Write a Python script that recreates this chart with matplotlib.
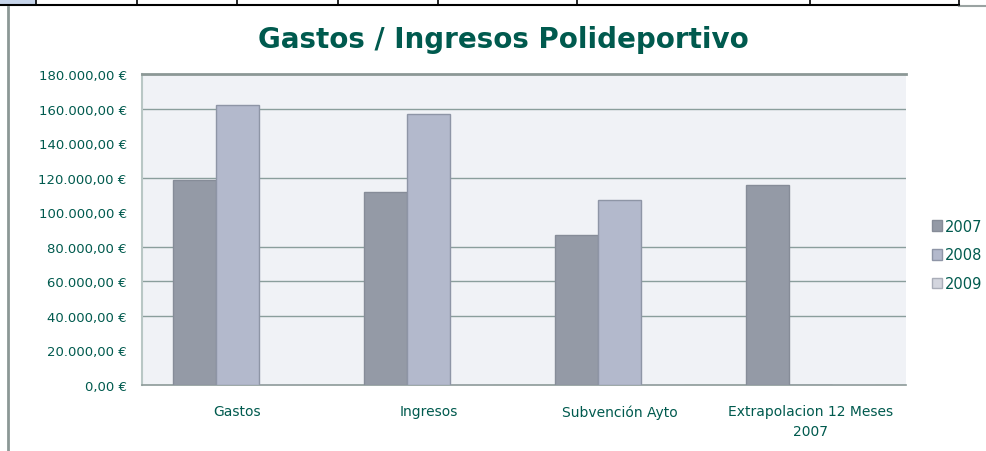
import matplotlib
matplotlib.use("Agg")
import matplotlib.pyplot as plt
import numpy as np
from matplotlib.patches import Rectangle
from matplotlib.lines import Line2D

# data
categories = ["Gastos", "Ingresos", "Subvención Ayto", "Extrapolacion 12 Meses\n2007"]
years = ["2007", "2008", "2009"]
vals_2007 = [118800, 111500, 86600, 115700]
vals_2008 = [162000, 156800, 106900, 0]
vals_2009 = [0, 0, 0, 0]
yticks = [0, 20000, 40000, 60000, 80000, 100000, 120000, 140000, 160000, 180000]
visible_grid = [40000, 60000, 80000, 120000, 160000]

teal = "#005a4e"
bar_colors = ["#949aa6", "#b3b9cc", "#d3d5de"]
edge_colors = ["#868c98", "#8e95a6", "#a9adb8"]

def euro(v):
    s = f"{v:,.2f}"
    s = s.replace(",", "X").replace(".", ",").replace("X", ".")
    return s + " €"

fig = plt.figure(figsize=(9.86, 4.52), dpi=100)
ax = fig.add_axes([142 / 986, 1 - 386 / 452, (906 - 142) / 986, (386 - 75) / 452])
ax.set_facecolor("#f0f2f6")

x = np.arange(len(categories))
w = 0.225
series = [vals_2007, vals_2008, vals_2009]
for i, (yr, vals) in enumerate(zip(years, series)):
    ax.bar(x + (i - 1) * w, vals, w, color=bar_colors[i], edgecolor=edge_colors[i],
           linewidth=1.0, label=yr, zorder=3)

ax.set_xlim(-0.5, len(categories) - 0.5)
ax.set_ylim(0, 180000)
ax.set_yticks(yticks)
ax.set_yticklabels([euro(v) for v in yticks])
ax.set_xticks(x)
ax.set_xticklabels(categories, linespacing=1.55)
ax.tick_params(axis="both", length=0, colors=teal, labelsize=9.5)
ax.tick_params(axis="y", pad=11)
ax.tick_params(axis="x", pad=14, labelsize=10)
for lab in ax.get_yticklabels() + ax.get_xticklabels():
    lab.set_color(teal)

ax.grid(axis="y", color="#8a9e9c", linewidth=1.0, zorder=1)
for gl, v in zip(ax.get_ygridlines(), yticks):
    if v not in visible_grid:
        gl.set_visible(False)

ax.spines["top"].set_color("#8c9896")
ax.spines["top"].set_linewidth(2.0)
ax.spines["right"].set_visible(False)
ax.spines["left"].set_color("#b9c7c5")
ax.spines["left"].set_linewidth(1.5)
ax.spines["bottom"].set_color("#8c9a98")
ax.spines["bottom"].set_linewidth(1.2)

fig.text(503 / 986, 1 - 40 / 452, "Gastos / Ingresos Polideportivo", ha="center", va="center",
         fontsize=20, fontweight="bold", color=teal)

handles = [Rectangle((0, 0), 1, 1, facecolor=bar_colors[i], edgecolor=edge_colors[i]) for i in range(3)]
leg = ax.legend(handles, years, loc="center left", bbox_to_anchor=(922 / 986, 1 - 256 / 452),
                bbox_transform=fig.transFigure, frameon=False, fontsize=10.5,
                handlelength=0.7, handleheight=0.7, handletextpad=0.15, labelspacing=0.95,
                borderpad=0.2)
for t in leg.get_texts():
    t.set_color(teal)

# spreadsheet strip and sheet border around the chart
fig.add_artist(Rectangle((0, 1 - 6 / 452), 36 / 986, 6 / 452, transform=fig.transFigure,
                         facecolor="#c6d4ea", edgecolor="none"))
fig.add_artist(Line2D([0, 959 / 986], [1 - 6 / 452] * 2, transform=fig.transFigure, color="black", lw=1.5))
fig.add_artist(Line2D([959 / 986, 1], [1 - 7 / 452] * 2, transform=fig.transFigure, color="#9aa3a2", lw=1.5))
for cx in [36, 137, 237, 338, 438, 577, 810, 959]:
    fig.add_artist(Line2D([cx / 986] * 2, [1 - 6 / 452, 1], transform=fig.transFigure, color="black", lw=1.2))
fig.add_artist(Line2D([7.5 / 986] * 2, [0, 1 - 8 / 452], transform=fig.transFigure, color="#8c9896", lw=2))

fig.savefig("out.png", dpi=100)
